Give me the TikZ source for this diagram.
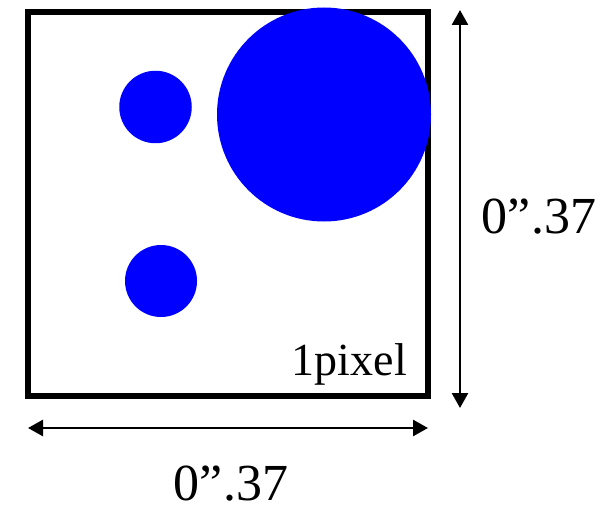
\documentclass[tikz,border=0pt]{standalone}
\usepackage{fontspec}
\setmainfont{Liberation Serif}
\usetikzlibrary{arrows.meta}
\tikzset{
  frame/.style={draw=black, line width=5.8pt},
  dot/.style={circle, fill=blue, draw=none, inner sep=0pt},
  dimarrow/.style={line width=2.6pt, {Triangle[length=15pt,width=16pt]}-{Triangle[length=15pt,width=16pt]}},
  biglabel/.style={inner sep=0pt, anchor=base, font=\fontsize{52}{60}\selectfont},
  pixlabel/.style={inner sep=0pt, anchor=base east, font=\fontsize{46}{54}\selectfont}
}
\begin{document}
\begin{tikzpicture}[x=1pt,y=-1pt]
\useasboundingbox (0,0) rectangle (607,505);
% pixel frame
\draw[frame] (28,12) rectangle (428,396);
\node[pixlabel] (pix) at (407,375) {1pixel};
% circles
\node[dot, minimum size=214pt] (big) at (324,114.5) {};
\node[dot, minimum size=72.5pt] (s1) at (155.5,107) {};
\node[dot, minimum size=72pt] (s2) at (161,281) {};
% dimension arrows
\coordinate (vt) at (460,10);
\coordinate (vb) at (460,408);
\draw[dimarrow] (vt) -- (vb);
\node[biglabel] (vlab) at (539,233) {0”.37};
\coordinate (hl) at (28,428);
\coordinate (hr) at (428,428);
\draw[dimarrow] (hl) -- (hr);
\node[biglabel] (hlab) at (231,500) {0”.37};
\end{tikzpicture}
\end{document}
